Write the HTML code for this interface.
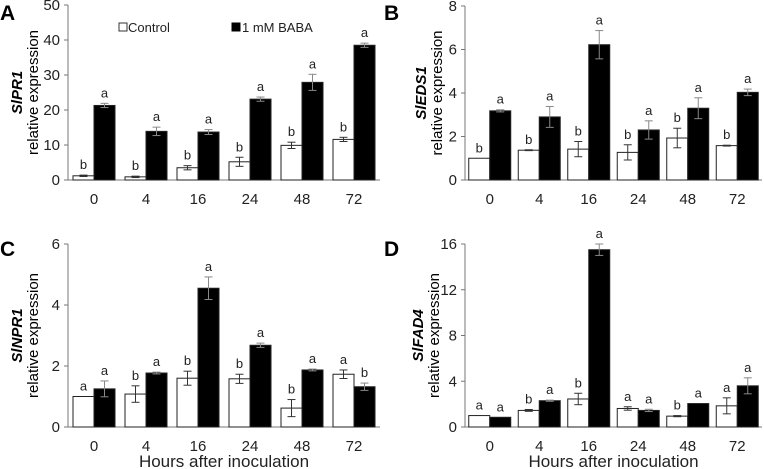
<!DOCTYPE html>
<html><head><meta charset="utf-8"><style>
html,body{margin:0;padding:0;background:#fff;}
svg{display:block;font-family:"Liberation Sans",Arial,sans-serif;}
</style></head><body>
<svg id="fig" width="764" height="469" viewBox="0 0 764 469" xmlns="http://www.w3.org/2000/svg"></svg>
<script>
const categories = ["0","4","16","24","48","72"];
const aCtrl = [1.2,0.9,3.5,5.2,9.9,11.6];
const aCtrlErr = [0.2,0.2,0.6,1.3,0.9,0.6];
const aBaba = [21.3,13.9,13.7,23.1,27.9,38.5];
const aBabaErr = [0.6,1.2,0.7,0.6,2.3,0.6];
const aCtrlLet = ["b","b","b","b","b","b"];
const aBabaLet = ["a","a","a","a","a","a"];
const aTicks = [0,10,20,30,40,50];

const bCtrl = [1.0,1.37,1.42,1.27,1.93,1.58];
const bCtrlErr = [0,0.02,0.35,0.35,0.45,0.02];
const bBaba = [3.18,2.9,6.22,2.3,3.3,4.03];
const bBabaErr = [0.05,0.48,0.65,0.42,0.48,0.15];
const bCtrlLet = ["b","b","b","b","b","b"];
const bBabaLet = ["a","a","a","a","a","a"];
const bTicks = [0,2,4,6,8];

const cCtrl = [1.0,1.08,1.6,1.58,0.62,1.73];
const cCtrlErr = [0,0.27,0.23,0.15,0.28,0.14];
const cBaba = [1.25,1.77,4.55,2.68,1.87,1.32];
const cBabaErr = [0.26,0.03,0.37,0.07,0.03,0.12];
const cCtrlLet = ["a","b","b","b","b","a"];
const cBabaLet = ["a","a","a","a","a","b"];
const cTicks = [0,2,4,6];

const dCtrl = [1.0,1.45,2.45,1.62,0.95,1.85];
const dCtrlErr = [0,0.08,0.5,0.15,0.05,0.7];
const dBaba = [0.85,2.3,15.5,1.45,2.05,3.6];
const dBabaErr = [0,0.05,0.5,0.1,0,0.7];
const dCtrlLet = ["a","b","b","a","b","a"];
const dBabaLet = ["a","a","a","a","a","a"];
const dTicks = [0,4,8,12,16];

const NS="http://www.w3.org/2000/svg";
const svg=document.getElementById('fig');
function el(tag,attrs,parent,text){const e=document.createElementNS(NS,tag);for(const k in attrs)e.setAttribute(k,attrs[k]);if(text!==undefined)e.textContent=text;(parent||svg).appendChild(e);return e;}

function panel(o){
  const g=el('g',{});
  
  
  const ymax=o.ticks[o.ticks.length-1];
  const y=v=>o.y0-(v/ymax)*(o.y0-o.yTop);
  const gw=(o.x1-o.x0)/categories.length;
  const cx=i=>o.x0+gw*(i+0.5);
  const bw=21;
  const L=el('text',{x:o.lx,y:o.ly,'font-size':21,'font-weight':'bold'},g,o.letter);
  
  
  const ya=el('line',{x1:o.x0,y1:o.yTop,x2:o.x0,y2:o.y0,stroke:'#777','stroke-width':1},g);
  
  
  const xa=el('line',{x1:o.x0,y1:o.y0,x2:o.x1,y2:o.y0,stroke:'#777','stroke-width':1},g);
  
  
  o.ticks.forEach(t=>{
    el('line',{x1:o.x0-4,y1:y(t),x2:o.x0,y2:y(t),stroke:'#777'},g);
    const tl=el('text',{x:o.x0-8,y:y(t)+5,'font-size':15,'text-anchor':'end',fill:'#222'},g,String(t));
    
    
  });
  categories.forEach((c,i)=>{
    const xl=el('text',{x:cx(i),y:o.y0+24,'font-size':15,'text-anchor':'middle',fill:'#222'},g,c);
    
    
    [[o.ctrl,o.ctrlErr,o.ctrlLet,'#fff',cx(i)-bw,'control'],[o.baba,o.babaErr,o.babaLet,'#000',cx(i),'baba']].forEach(s=>{
      const v=s[0][i],e=s[1][i];
      const r=el('rect',{x:s[4],y:y(v),width:bw,height:o.y0-y(v),fill:s[3],stroke:'#222','stroke-width':1},g);
      
      
      const mx=s[4]+bw/2,col=s[3]==='#000'?'#888':'#333';
      if(e>0){
        el('line',{x1:mx,y1:y(v+e),x2:mx,y2:y(v-e),stroke:col},g);
        el('line',{x1:mx-4,y1:y(v+e),x2:mx+4,y2:y(v+e),stroke:col},g);
        el('line',{x1:mx-4,y1:y(v-e),x2:mx+4,y2:y(v-e),stroke:col},g);
      }
      const lt=el('text',{x:mx,y:y(v+e)-6,'font-size':13,'text-anchor':'middle',fill:'#222'},g,s[2][i]);
      
      
    });
  });
  const t=el('text',{'font-size':15,'text-anchor':'middle',transform:`translate(${o.tx},${(o.y0+o.yTop)/2}) rotate(-90)`},g);
  
  
  el('tspan',{x:0,dy:0,'font-style':'italic','font-weight':'bold'},t,o.gene);
  el('tspan',{x:0,dy:16},t,'relative expression');
  if(o.xtitle){
    const xt=el('text',{x:(o.x0+o.x1)/2,y:467,'font-size':17,'text-anchor':'middle',fill:'#222'},g,'Hours after inoculation');
    
    
  }
}
panel({letter:'A',lx:0,ly:20,x0:68,x1:380,yTop:5,y0:180,tx:22,ticks:aTicks,ctrl:aCtrl,ctrlErr:aCtrlErr,baba:aBaba,babaErr:aBabaErr,ctrlLet:aCtrlLet,babaLet:aBabaLet,gene:'SlPR1'});
panel({letter:'B',lx:384,ly:20,x0:465,x1:762,yTop:6,y0:180,tx:426,ticks:bTicks,ctrl:bCtrl,ctrlErr:bCtrlErr,baba:bBaba,babaErr:bBabaErr,ctrlLet:bCtrlLet,babaLet:bBabaLet,gene:'SlEDS1'});
panel({letter:'C',lx:0,ly:256,x0:68,x1:380,yTop:244,y0:427,tx:22,ticks:cTicks,ctrl:cCtrl,ctrlErr:cCtrlErr,baba:cBaba,babaErr:cBabaErr,ctrlLet:cCtrlLet,babaLet:cBabaLet,gene:'SlNPR1',xtitle:true});
panel({letter:'D',lx:384,ly:256,x0:465,x1:762,yTop:244,y0:427,tx:423,ticks:dTicks,ctrl:dCtrl,ctrlErr:dCtrlErr,baba:dBaba,babaErr:dBabaErr,ctrlLet:dCtrlLet,babaLet:dBabaLet,gene:'SlFAD4',xtitle:true});
const lg=el('g',{});


const l1=el('rect',{x:119,y:23,width:8,height:8,fill:'#fff',stroke:'#333'},lg);


const l1t=el('text',{x:128,y:32,'font-size':13,fill:'#222'},lg,'Control');


const l2=el('rect',{x:232,y:23,width:8,height:8,fill:'#000',stroke:'#000'},lg);


const l2t=el('text',{x:242,y:32,'font-size':13,fill:'#222'},lg,'1 mM BABA');


</script>
</body></html>
